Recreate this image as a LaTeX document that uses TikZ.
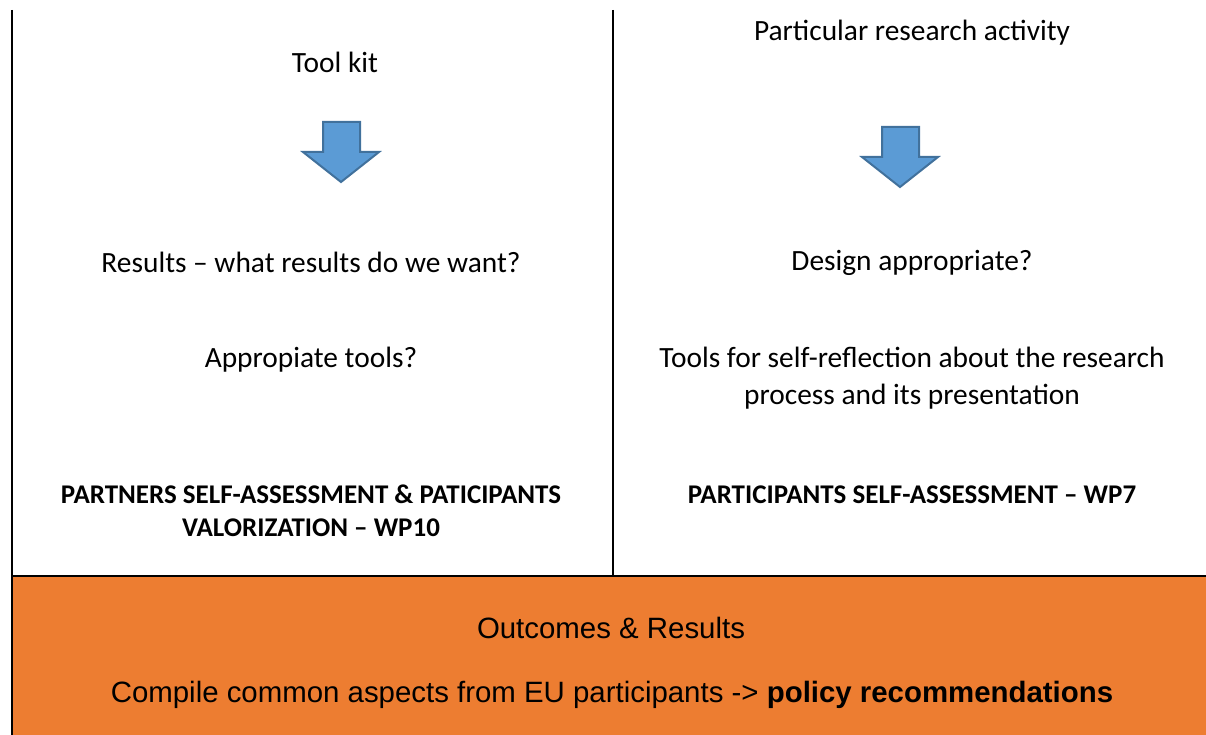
\documentclass[tikz,border=0pt]{standalone}
\usepackage{fontspec}
\setmainfont{Carlito}
\newfontfamily\arialfont{Liberation Sans}
\definecolor{boxorange}{HTML}{ED7D31}
\definecolor{arrowfill}{HTML}{5B9BD5}
\definecolor{arrowline}{HTML}{41719C}

\begin{document}
\begin{tikzpicture}[x=1pt, y=-1pt,
    txt/.style = {align=center, inner sep=0pt, font=\fontsize{29.4}{37}\selectfont},
    head/.style = {align=center, inner sep=0pt, font=\fontsize{27}{33}\selectfont\bfseries},
    outtxt/.style = {align=center, inner sep=0pt, font=\arialfont\fontsize{29.4}{34}\selectfont},
    blockarrow/.style = {fill=arrowfill, draw=arrowline, line width=2pt, line join=miter}]

        \useasboundingbox (0,0) rectangle (1206,735);

        % Bottom box
        \fill[boxorange] (12,576) rectangle (1206,735);

        % Frame lines
        \draw[line width=2pt] (11.5,10) -- (11.5,735);
        \draw[line width=2pt] (613,10) -- (613,576);
        \draw[line width=2pt] (11.5,576) -- (1206,576);

        % Left column
        \node[txt] (toolkit) at (335,62) {Tool kit};
        \draw[blockarrow] (323,122) -- (360,122) -- (360,152) -- (379,152)
            -- (341,182) -- (303,152) -- (323,152) -- cycle;
        \node[txt] (results) at (311,262) {Results -- what results do we want?};
        \node[txt] (tools) at (311,360) {Appropiate tools?};
        \node[head] (wpten) at (311,511) {PARTNERS SELF-ASSESSMENT \& PATICIPANTS\\VALORIZATION -- WP10};

        % Right column
        \node[txt] (activity) at (912,33) {Particular research activity};
        \draw[blockarrow] (882,127) -- (919,127) -- (919,157) -- (938,157)
            -- (900,187) -- (862,157) -- (882,157) -- cycle;
        \node[txt] (design) at (912,263) {Design appropriate?};
        \node[txt] (reflect) at (912,378) {Tools for self-reflection about the research\\process and its presentation};
        \node[head] (wpseven) at (912,495) {PARTICIPANTS SELF-ASSESSMENT -- WP7};

        % Outcomes
        \node[outtxt] (outcomes) at (611,628) {Outcomes \& Results};
        \node[outtxt] (compile) at (612,695) {Compile common aspects from EU participants -> \textbf{policy recommendations}};
    \end{tikzpicture}
\end{document}
